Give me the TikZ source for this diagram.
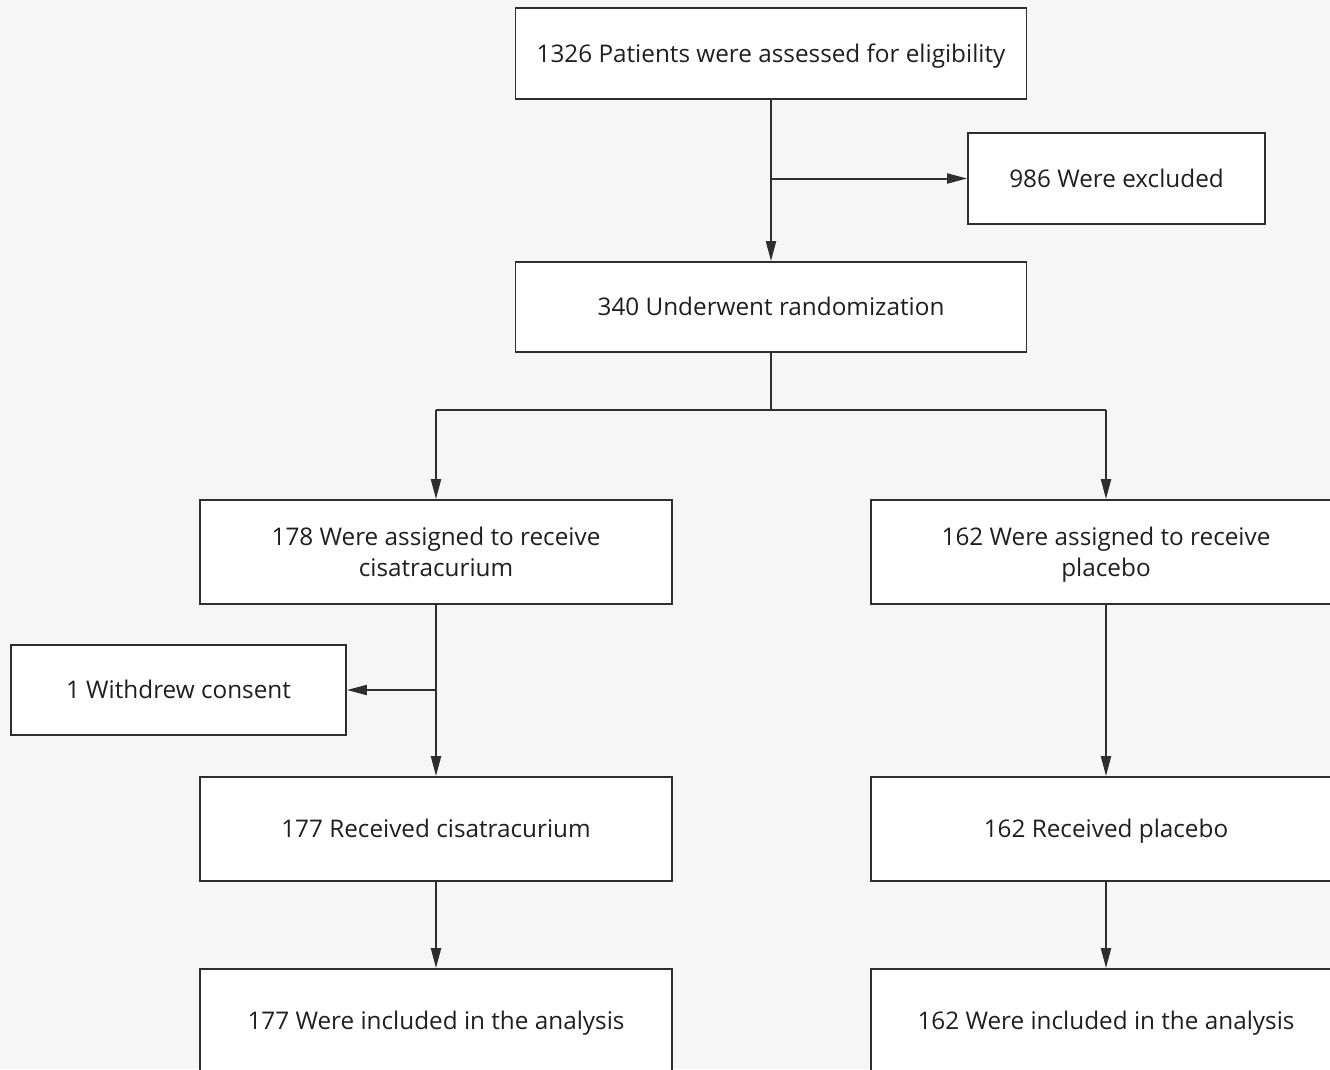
\documentclass[tikz,border=0pt]{standalone}
\usepackage{fontspec}
\setmainfont{Open Sans}
\usetikzlibrary{arrows.meta}
\definecolor{bg}{HTML}{F6F6F6}
\definecolor{ln}{HTML}{2E2E2E}
\begin{document}
\begin{tikzpicture}[x=1pt,y=-1pt,
  box/.style={draw=ln,fill=white,line width=1.8pt,inner sep=0pt,font=\fontsize{24.3}{31}\selectfont,text=black!88,align=center},
  one/.style={box,text height=17.5pt,text depth=0pt},
  conn/.style={draw=ln,line width=2pt},
  arr/.style={conn,-{Triangle[length=20pt,width=10pt]}}]
\useasboundingbox (0,0) rectangle (1330,1069);
\fill[bg] (0,0) rectangle (1330,1069);
\begin{scope}
\clip (0,0) rectangle (1330,1069);
\node[one,minimum width=511pt,minimum height=91pt] (a) at (771,53.5) {1326 Patients were assessed for eligibility};
\node[one,minimum width=297pt,minimum height=91pt] (ex) at (1116.5,178.5) {986 Were excluded};
\node[one,minimum width=511pt,minimum height=90pt] (r) at (771,307) {340 Underwent randomization};
\node[box,minimum width=472pt,minimum height=104pt] (c1) at (436,552) {178 Were assigned to receive\\cisatracurium};
\node[box,minimum width=470pt,minimum height=104pt] (p1) at (1106,552) {162 Were assigned to receive\\\raisebox{0pt}[\height][0pt]{placebo}};
\node[one,minimum width=335pt,minimum height=90pt] (w) at (178.5,690) {1 Withdrew consent};
\node[one,minimum width=472pt,minimum height=104pt] (c2) at (436,829) {177 Received cisatracurium};
\node[one,minimum width=470pt,minimum height=104pt] (p2) at (1106,829) {162 Received placebo};
\node[one,minimum width=472pt,minimum height=104pt] (c3) at (436,1021) {177 Were included in the analysis};
\node[one,minimum width=470pt,minimum height=104pt] (p3) at (1106,1021) {162 Were included in the analysis};
\coordinate (j1) at (771,178.5);
\coordinate (j2) at (771,410);
\coordinate (jl) at (436,410);
\coordinate (jr) at (1106,410);
\coordinate (j3) at (436,690);
\draw[arr] (a.south) -- (r.north);
\draw[arr] (j1) -- (ex.west);
\draw[conn] (r.south) -- (j2);
\draw[conn] (jl) -- (jr);
\draw[arr] (jl) -- (c1.north);
\draw[arr] (jr) -- (p1.north);
\draw[arr] (c1.south) -- (c2.north);
\draw[arr] (j3) -- (w.east);
\draw[arr] (p1.south) -- (p2.north);
\draw[arr] (c2.south) -- (c3.north);
\draw[arr] (p2.south) -- (p3.north);
\end{scope}
\end{tikzpicture}
\end{document}
